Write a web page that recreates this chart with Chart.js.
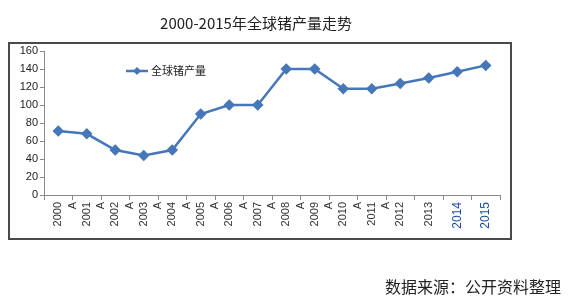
<!DOCTYPE html>
<html>
<head>
<meta charset="utf-8">
<script src="https://cdn.jsdelivr.net/npm/chart.js@4"></script>
<style>
  body { margin: 0; background: #fff; }
  #wrap { position: relative; width: 573px; height: 308px; }
  #ramka { position: absolute; left: 8px; top: 42px; width: 500px; height: 194px; border: 2px solid #4a4a4a; pointer-events: none; }
  #tytul { position: absolute; left: 0; width: 512px; top: 12px; text-align: center; font: 15px "Noto Sans CJK SC"; color: #222; }
  #zrodlo { position: absolute; right: 12px; top: 274px; font: 16px "Noto Sans CJK SC"; color: #222; }
</style>
</head>
<body>
<div id="wrap">
  <canvas id="wykres" width="573" height="308"></canvas>
  <div id="ramka"></div>
  <div id="tytul">2000-2015年全球锗产量走势</div>
  <div id="zrodlo">数据来源：公开资料整理</div>
</div>
<script>
const lata = [['2000', 'A'], ['2001', 'A'], ['2002', 'A'], ['2003', 'A'], ['2004', 'A'], ['2005', 'A'],
  ['2006', 'A'], ['2007', 'A'], ['2008', 'A'], ['2009', 'A'], ['2010', 'A'], ['2011', 'A'],
  '2012', '2013', '2014', '2015'];
const produkcja = [71, 68, 50, 44, 50, 90, 100, 100, 140, 140, 118, 118, 124, 130, 137, 144];
const nazwaSerii = '全球锗产量';
const kolor = '#4677b8';

// legenda narysowana wewnatrz obszaru wykresu
const legendaWewnatrz = {
  id: 'legendaWewnatrz',
  afterDraw(chart) {
    const ctx = chart.ctx;
    const x = chart.chartArea.left + 82;
    const y = chart.chartArea.top + 20;
    ctx.save();
    ctx.strokeStyle = kolor;
    ctx.lineWidth = 2.5;
    ctx.beginPath();
    ctx.moveTo(x, y);
    ctx.lineTo(x + 22, y);
    ctx.stroke();
    ctx.fillStyle = kolor;
    ctx.beginPath();
    ctx.moveTo(x + 11, y - 4);
    ctx.lineTo(x + 15, y);
    ctx.lineTo(x + 11, y + 4);
    ctx.lineTo(x + 7, y);
    ctx.closePath();
    ctx.fill();
    ctx.fillStyle = '#222';
    ctx.font = '11px "Noto Sans CJK SC"';
    ctx.textBaseline = 'middle';
    ctx.fillText(nazwaSerii, x + 25, y);
    ctx.restore();
  }
};

new Chart(document.getElementById('wykres').getContext('2d'), {
  type: 'line',
  data: {
    labels: lata,
    datasets: [{
      label: nazwaSerii,
      data: produkcja,
      borderColor: kolor,
      backgroundColor: kolor,
      borderWidth: 2.5,
      pointStyle: 'rectRot',
      pointRadius: 4,
      tension: 0
    }]
  },
  options: {
    responsive: false,
    animation: false,
    layout: { padding: { left: 8, top: 51, right: 73, bottom: 70 } },
    plugins: { legend: { display: false }, tooltip: { enabled: false } },
    scales: {
      x: {
        offset: true,
        grid: { offset: true, drawOnChartArea: false, tickLength: 5, color: '#8a8a8a' },
        border: { color: '#8a8a8a' },
        ticks: {
          autoSkip: false,
          minRotation: 90, maxRotation: 90, padding: 2,
          color: (c) => c.index >= 14 ? '#1c4d9e' : '#333',
          font: (c) => ({ family: 'Liberation Sans', size: c.index >= 14 ? 12 : 11, lineHeight: 1.3 })
        },
        afterFit(scale) { scale.height = 43; }
      },
      y: {
        min: 0, max: 160,
        grid: { drawOnChartArea: false, tickLength: 4, color: '#8a8a8a' },
        border: { color: '#8a8a8a' },
        ticks: { stepSize: 20, color: '#222', padding: 2, font: { family: 'Liberation Sans', size: 11 } },
        afterFit(scale) { scale.width = 36; }
      }
    }
  },
  plugins: [legendaWewnatrz]
});
</script>
</body>
</html>
